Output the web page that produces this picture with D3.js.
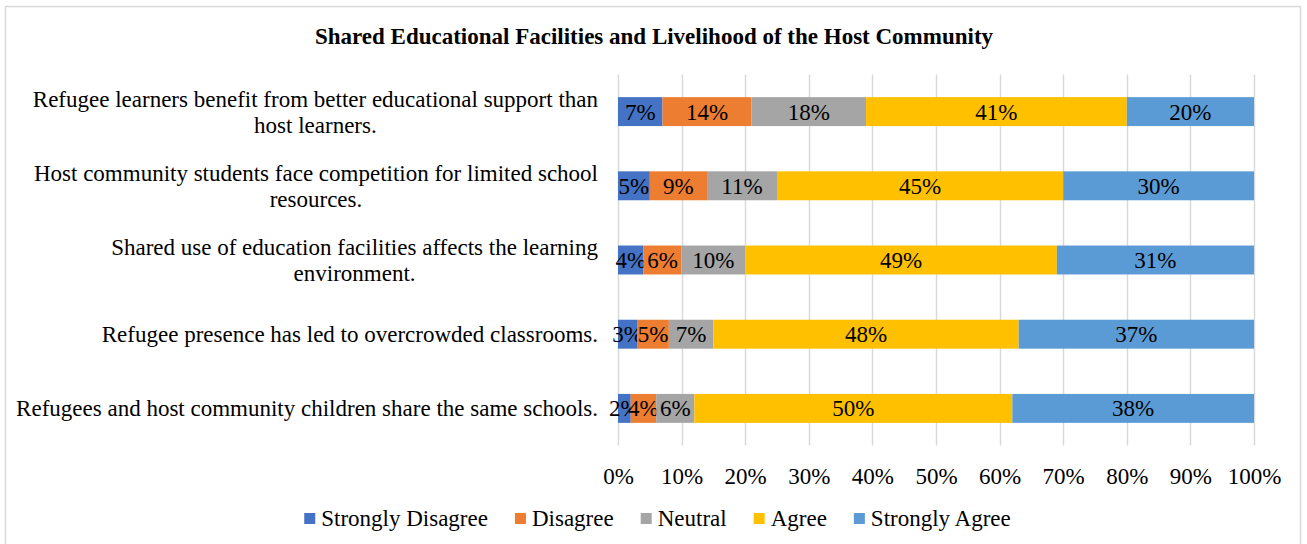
<!DOCTYPE html>
<html>
<head>
<meta charset="utf-8">
<script src="https://cdn.jsdelivr.net/npm/d3@7"></script>
<style>
  html, body { margin: 0; padding: 0; background: #fff; }
  svg { display: block; }
  text { font-family: "Liberation Serif", "Times New Roman", serif; fill: #000; }
</style>
</head>
<body>
<svg id="chart" width="1307" height="544"></svg>
<script>
// Survey statements (top to bottom), each split into its wrapped lines
const statements = [
  ["Refugee learners benefit from better educational support than", "host learners."],
  ["Host community students face competition for limited school", "resources."],
  ["Shared use of education facilities affects the learning", "environment."],
  ["Refugee presence has led to overcrowded classrooms."],
  ["Refugees and host community children share the same schools."]
];
const responses = ["Strongly Disagree", "Disagree", "Neutral", "Agree", "Strongly Agree"];
const stronglyDisagree = [7, 5, 4, 3, 2];
const disagree         = [14, 9, 6, 5, 4];
const neutral          = [18, 11, 10, 7, 6];
const agree            = [41, 45, 49, 48, 50];
const stronglyAgree    = [20, 30, 31, 37, 38];
const xTicks = [0, 10, 20, 30, 40, 50, 60, 70, 80, 90, 100];
const title = "Shared Educational Facilities and Livelihood of the Host Community";

const colors = ["#4472C4", "#ED7D31", "#A5A5A5", "#FFC000", "#5B9BD5"];
const FONT = "23px";

const rows = statements.map((lines, i) => ({
  key: i,
  lines,
  "Strongly Disagree": stronglyDisagree[i],
  "Disagree": disagree[i],
  "Neutral": neutral[i],
  "Agree": agree[i],
  "Strongly Agree": stronglyAgree[i]
}));

const svg = d3.select("#chart");
const plot = { left: 618, right: 1254, top: 74.5, bottom: 445.5 };

// Outer chart frame
svg.append("rect")
  .attr("x", 5.5).attr("y", 6.5)
  .attr("width", 1295).attr("height", 560)
  .attr("fill", "#fff").attr("stroke", "#d9d9d9").attr("stroke-width", 1.5);

const x = d3.scaleLinear().domain([0, 100]).range([plot.left, plot.right]);
const y = d3.scaleBand().domain(rows.map(r => r.key))
  .range([plot.top, plot.bottom]).paddingInner(0.61).paddingOuter(0.305);

// Title
svg.append("text")
  .attr("x", 654).attr("y", 44)
  .attr("text-anchor", "middle")
  .style("font-size", FONT).style("font-weight", "bold")
  .text(title);

// Vertical gridlines
svg.append("g").selectAll("line").data(xTicks).join("line")
  .attr("x1", d => Math.round(x(d)) + 0.5).attr("x2", d => Math.round(x(d)) + 0.5)
  .attr("y1", plot.top).attr("y2", plot.bottom)
  .attr("stroke", "#d9d9d9").attr("stroke-width", 1.5);

// X axis labels
const xAxis = d3.axisBottom(x).tickValues(xTicks).tickFormat(d => d + "%").tickSize(0).tickPadding(0);
const gx = svg.append("g").attr("transform", `translate(0,${plot.bottom})`).call(xAxis);
gx.select(".domain").remove();
gx.selectAll("text")
  .attr("y", 30).attr("dy", "0.35em")
  .style("font-family", "'Liberation Serif', 'Times New Roman', serif")
  .style("font-size", FONT).attr("fill", "#000");

// Stacked segments
const stack = d3.stack().keys(responses);
const series = stack(rows);

const layers = svg.append("g").selectAll("g").data(series).join("g")
  .attr("fill", (d, i) => colors[i]);

layers.selectAll("rect").data(d => d).join("rect")
  .attr("x", d => x(d[0]))
  .attr("y", d => y(d.data.key))
  .attr("width", d => x(d[1]) - x(d[0]))
  .attr("height", y.bandwidth());

// Value labels centred in each segment
layers.selectAll("text").data(d => d.map(v => ({ v, k: d.key }))).join("text")
  .attr("x", d => (x(d.v[0]) + x(d.v[1])) / 2)
  .attr("y", d => y(d.v.data.key) + y.bandwidth() / 2)
  .attr("dy", "0.35em")
  .attr("text-anchor", "middle")
  .style("font-size", FONT)
  .text(d => (d.v[1] - d.v[0]) + "%");

// Category labels: lines centred within a block right-aligned to the plot
const labelRight = 598;
const lineGap = 26;
rows.forEach(r => {
  const g = svg.append("g");
  const cy = y(r.key) + y.bandwidth() / 2;
  const n = r.lines.length;
  const texts = r.lines.map((t, j) => g.append("text")
    .attr("y", cy + (j - (n - 1) / 2) * lineGap)
    .attr("dy", "0.35em")
    .attr("text-anchor", "middle")
    .style("font-size", FONT)
    .text(t));
  const widths = texts.map(t => t.node().getComputedTextLength());
  const blockW = d3.max(widths);
  texts.forEach(t => t.attr("x", labelRight - blockW / 2));
});

// Legend, centred under the plot
const legendY = 518;
const gap = 27;
const legend = svg.append("g");
let lx = 0;
responses.forEach((name, i) => {
  const g = legend.append("g");
  g.append("rect").attr("x", 0).attr("y", legendY - 5).attr("width", 11).attr("height", 11).attr("fill", colors[i]);
  const t = g.append("text").attr("x", 17).attr("y", legendY).attr("dy", "0.35em")
    .style("font-size", FONT).text(name);
  const w = 17 + t.node().getComputedTextLength();
  g.attr("transform", `translate(${lx},0)`);
  lx += w + gap;
});
const legendW = lx - gap;
legend.attr("transform", `translate(${657.5 - legendW / 2},0)`);
</script>
</body>
</html>
